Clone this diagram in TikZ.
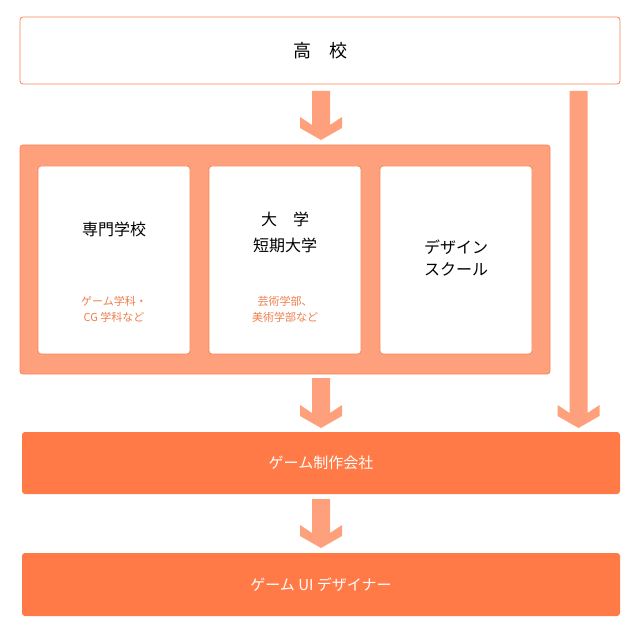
\documentclass[tikz,border=0pt]{standalone}
\usepackage{fontspec}
\setmainfont{Noto Sans CJK JP}
\definecolor{lt}{HTML}{FFA07C}
\definecolor{ltb}{HTML}{F5865A}
\definecolor{dk}{HTML}{FF7A46}
\definecolor{tx}{HTML}{F07D4C}
\begin{document}
\begin{tikzpicture}[x=1pt,y=-1pt,
  wbox/.style={draw=ltb,fill=white,rounded corners=3pt,line width=0.8pt},
  bar/.style={fill=dk,rounded corners=3pt,text=white,font=\fontsize{15}{18}\selectfont},
  big/.style={font=\fontsize{16}{22}\selectfont,align=center},
  small/.style={text=tx,font=\fontsize{11}{16}\selectfont,align=center}]
\useasboundingbox (0,0) rectangle (640,636);
\def\arr#1#2#3{\fill[lt] (#1-9,#2) -- (#1+9,#2) -- (#1+9,#3-15) -- (#1+21,#3-23) -- (#1+21,#3-12) -- (#1,#3) -- (#1-21,#3-12) -- (#1-21,#3-23) -- (#1-9,#3-15) -- cycle;}
\node[wbox,minimum width=600,minimum height=67,font=\fontsize{18}{22}\selectfont] (hs) at (320,50.5) {高\quad 校};
\arr{321}{91}{140}
\arr{578.5}{91}{428}
\node[draw=ltb,fill=lt,rounded corners=3pt,minimum width=530,minimum height=229,line width=0.8pt] (grp) at (285,259.5) {};
\node[wbox,minimum width=152,minimum height=188] (a) at (114,260) {};
\node[wbox,minimum width=152,minimum height=188] (b) at (285,260) {};
\node[wbox,minimum width=152,minimum height=188] (c) at (456,260) {};
\node[big] (a1) at (114,229) {専門学校};
\node[small] (a2) at (114,309) {ゲーム学科・\\CG 学科など};
\node[big] (b1) at (285,232) {大\quad 学\\[4pt]短期大学};
\node[small] (b2) at (285,309) {芸術学部、\\美術学部など};
\node[big] (c1) at (456,258) {デザイン\\スクール};
\arr{321}{378}{428}
\node[bar,minimum width=598,minimum height=62] (g) at (321,463) {ゲーム制作会社};
\arr{321}{499}{548}
\node[bar,minimum width=598,minimum height=63] (u) at (321,584.5) {ゲーム UI デザイナー};
\end{tikzpicture}
\end{document}
